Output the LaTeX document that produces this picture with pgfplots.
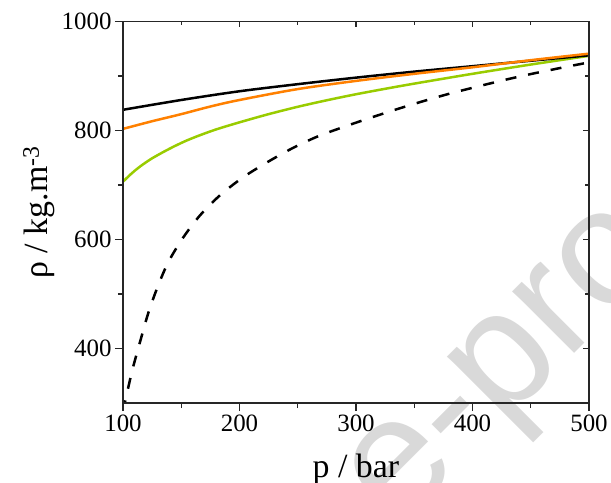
\documentclass[border=0pt]{standalone}
\usepackage{fontspec}
\setmainfont{Liberation Serif}
\newfontfamily\wmfont{Liberation Sans}
\usepackage{pgfplots}
\pgfplotsset{compat=1.18}
\definecolor{orangec}{RGB}{255,128,0}
\definecolor{greenc}{RGB}{153,204,0}
\definecolor{wm}{RGB}{217,217,217}
\begin{document}
\begin{tikzpicture}
\useasboundingbox (-123bp,-80bp) rectangle (488bp,403bp);
\node[rotate=45, anchor=base west, inner sep=0pt, text=wm, font=\wmfont\fontsize{166}{166}\selectfont] at (274bp,-128bp) {e-proof};
\begin{axis}[
  at={(0,0)}, anchor=south west,
  scale only axis, width=466bp, height=381.5bp,
  xmin=100, xmax=500, ymin=300, ymax=1000,
  xtick={100,200,300,400,500}, ytick={400,600,800,1000},
  minor x tick num=1, minor y tick num=1,
  xtick pos=left, ytick pos=left,
  tick align=outside,
  major tick length=8bp, minor tick length=5bp,
  axis line style={black!85, line width=1.2bp},
  tick style={black!85, line width=1.2bp},
  tick label style={font=\fontsize{25}{30}\selectfont},
  /pgf/number format/assume math mode=true,
  /pgf/number format/1000 sep={},
  xlabel={p / bar}, ylabel={ρ / kg.m\textsuperscript{-3}},
  label style={font=\fontsize{34}{40}\selectfont},
  xlabel style={at={(axis description cs:0.5,-0.194)}, anchor=base},
  ylabel style={at={(axis description cs:-0.161,0.5)}, anchor=base},
]
% dashed
\addplot[black, line width=2.5bp, dash pattern=on 11bp off 12bp, smooth, tension=0.5] coordinates {
(100,285) (102.7,311) (105,333) (108.3,363) (115,415)
(121.7,465) (129.7,513) (139,559) (151.8,604)
(166,644) (183.2,681) (203,714) (224,742) (245,767) (267,789) (290,807)
(312,823) (335,839) (358,854) (381,868) (405,881) (428,893) (451,904) (475,914.5) (500,925)
};
% green
\addplot[greenc, line width=2.5bp, smooth, tension=0.5] coordinates {
(100,706) (105,716.5) (110,726) (115,734.5) (120,742) (125,749) (135,761) (145,772)
(154,781) (165,790.5) (180,802) (200,815) (225,830) (250,843.5) (275,855.5) (300,866.5)
(325,876.5) (350,886) (400,904) (450,921) (500,937)
};
% black
\addplot[black, line width=2.5bp, smooth, tension=0.5] coordinates {
(100,838) (150,856) (200,872) (250,885) (300,897) (350,908)
(400,918) (450,928) (500,938)
};
% orange
\addplot[orangec, line width=2.5bp, smooth, tension=0.5] coordinates {
(100,803) (125,817) (150,830) (175,844) (200,856) (250,876) (300,891) (350,904)
(400,916) (450,929) (500,941)
};
\end{axis}
\begin{axis}[
  at={(0,0)}, anchor=south west,
  scale only axis, width=466bp, height=381.5bp,
  xmin=100, xmax=500, ymin=300, ymax=1000,
  xtick={100,200,300,400,500}, ytick={400,600,800,1000},
  minor x tick num=1, minor y tick num=1,
  xtick pos=right, ytick pos=right,
  tick align=inside,
  major tick length=6bp, minor tick length=4bp,
  xticklabels={}, yticklabels={},
  axis line style={black!85, line width=1.2bp},
  tick style={black!85, line width=1.2bp},
]
\end{axis}
\end{tikzpicture}
\end{document}
